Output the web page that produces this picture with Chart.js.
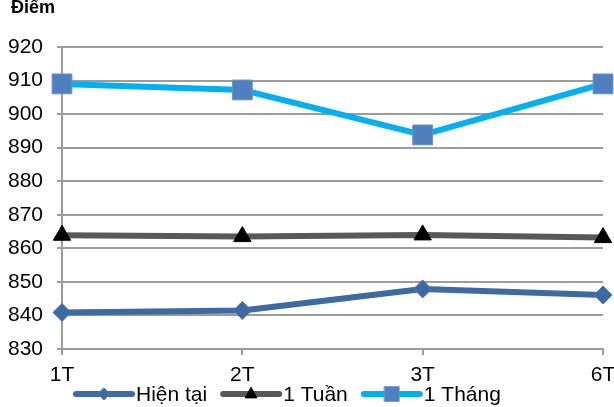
<!DOCTYPE html>
<html>
<head>
<meta charset="utf-8">
<script src="https://cdn.jsdelivr.net/npm/chart.js@4"></script>
<style>
  html, body { margin: 0; padding: 0; background: #fff; }
  canvas { display: block; }
</style>
</head>
<body>
<canvas id="c" width="614" height="407"></canvas>
<script>
// Kỳ hạn và điểm số theo từng mốc thời gian
const categories = ['1T', '2T', '3T', '6T'];
const hienTai  = [840.9, 841.5, 847.9, 846.1];
const motTuan  = [863.9, 863.5, 864.0, 863.2];
const motThang = [909.0, 907.2, 893.8, 909.0];
const seriesNames = ['Hiện tại', '1 Tuần', '1 Tháng'];
const yTicks = [830, 840, 850, 860, 870, 880, 890, 900, 910, 920];
const axisTitle = 'Điểm';

const FONT = "'Liberation Sans', Arial, sans-serif";
const GRID = '#9c9c9c';

// Tên trục "Điểm" ở góc trên bên trái
const axisTitlePlugin = {
  id: 'axisTitle',
  afterDraw(chart) {
    const ctx = chart.ctx;
    ctx.save();
    ctx.font = 'bold 18px ' + FONT;
    ctx.fillStyle = '#000';
    ctx.textBaseline = 'alphabetic';
    ctx.textAlign = 'left';
    ctx.fillText(axisTitle, 11, 13);
    ctx.restore();
  }
};

// Chú giải: đoạn đường kẻ + ký hiệu + tên chuỗi
const lineLegendPlugin = {
  id: 'lineLegend',
  afterDraw(chart) {
    const ctx = chart.ctx;
    const y = 394;
    const lineLen = 56, gapText = 4, gapItem = 16;
    const markerSize = [6, 6.5, 10.5];
    let x = 76;
    ctx.save();
    ctx.font = '21px ' + FONT;
    chart.data.datasets.forEach((ds, i) => {
      ctx.strokeStyle = ds.borderColor;
      ctx.lineWidth = 6;
      ctx.lineCap = 'round';
      ctx.beginPath();
      ctx.moveTo(x, y);
      ctx.lineTo(x + lineLen, y);
      ctx.stroke();
      ctx.fillStyle = ds.pointBackgroundColor;
      ctx.strokeStyle = ds.pointBorderColor;
      ctx.lineWidth = 1;
      ctx.beginPath();
      const cx = x + lineLen / 2, r = markerSize[i];
      if (ds.pointStyle === 'rectRot') {
        ctx.moveTo(cx, y - r); ctx.lineTo(cx + r, y); ctx.lineTo(cx, y + r); ctx.lineTo(cx - r, y);
      } else if (ds.pointStyle === 'triangle') {
        ctx.moveTo(cx, y - r); ctx.lineTo(cx + r * 0.87, y + r * 0.6); ctx.lineTo(cx - r * 0.87, y + r * 0.6);
      } else {
        ctx.rect(cx - r * 0.7, y - r * 0.7, r * 1.4, r * 1.4);
      }
      ctx.closePath();
      ctx.fill();
      ctx.stroke();
      ctx.fillStyle = '#000';
      ctx.textBaseline = 'middle';
      ctx.textAlign = 'left';
      const tx = x + lineLen + gapText;
      ctx.fillText(ds.label, tx, y + 1);
      x = tx + ctx.measureText(ds.label).width + gapItem;
    });
    ctx.restore();
  }
};

const common = {
  fill: false,
  tension: 0,
  borderWidth: 6,
  borderJoinStyle: 'round',
  borderCapStyle: 'round',
  clip: false,
  pointBorderWidth: 1,
  pointHoverRadius: 0
};

new Chart(document.getElementById('c'), {
  type: 'line',
  data: {
    labels: categories,
    datasets: [
      Object.assign({}, common, {
        label: seriesNames[0],
        data: hienTai,
        borderColor: '#3d6aa3',
        pointStyle: 'rectRot',
        pointRadius: 9,
        pointBackgroundColor: '#3d6aa3',
        pointBorderColor: '#4a78b3'
      }),
      Object.assign({}, common, {
        label: seriesNames[1],
        data: motTuan,
        borderColor: '#585858',
        pointStyle: 'triangle',
        pointRadius: 10,
        pointBackgroundColor: '#000000',
        pointBorderColor: '#000000'
      }),
      Object.assign({}, common, {
        label: seriesNames[2],
        data: motThang,
        borderColor: '#00b0f0',
        pointStyle: 'rect',
        pointRadius: 14,
        pointBackgroundColor: '#4f7fbd',
        pointBorderColor: '#6a93c8'
      })
    ]
  },
  options: {
    responsive: false,
    animation: false,
    devicePixelRatio: 1,
    layout: { autoPadding: false, padding: { top: 47, right: 0, bottom: 0, left: 0 } },
    plugins: {
      legend: { display: false },
      title: { display: false },
      tooltip: { enabled: false }
    },
    scales: {
      x: {
        type: 'category',
        offset: false,
        afterFit(scale) {
          scale.height = 58;
          scale.paddingRight = 11;
        },
        grid: {
          drawOnChartArea: false,
          drawTicks: true,
          tickLength: 6,
          color: GRID,
          lineWidth: 2
        },
        border: { display: true, color: GRID, width: 2 },
        ticks: {
          color: '#000',
          font: { family: FONT, size: 21 },
          padding: 8,
          maxRotation: 0,
          autoSkip: false
        }
      },
      y: {
        min: 830,
        max: 920,
        afterFit(scale) { scale.width = 62; },
        afterBuildTicks(scale) { scale.ticks = yTicks.map(v => ({ value: v })); },
        grid: {
          color: GRID,
          lineWidth: 2,
          drawTicks: true,
          tickLength: 5
        },
        border: { display: true, color: GRID, width: 2 },
        ticks: {
          color: '#000',
          font: { family: FONT, size: 21 },
          padding: 14
        }
      }
    }
  },
  plugins: [axisTitlePlugin, lineLegendPlugin]
});
</script>
</body>
</html>
